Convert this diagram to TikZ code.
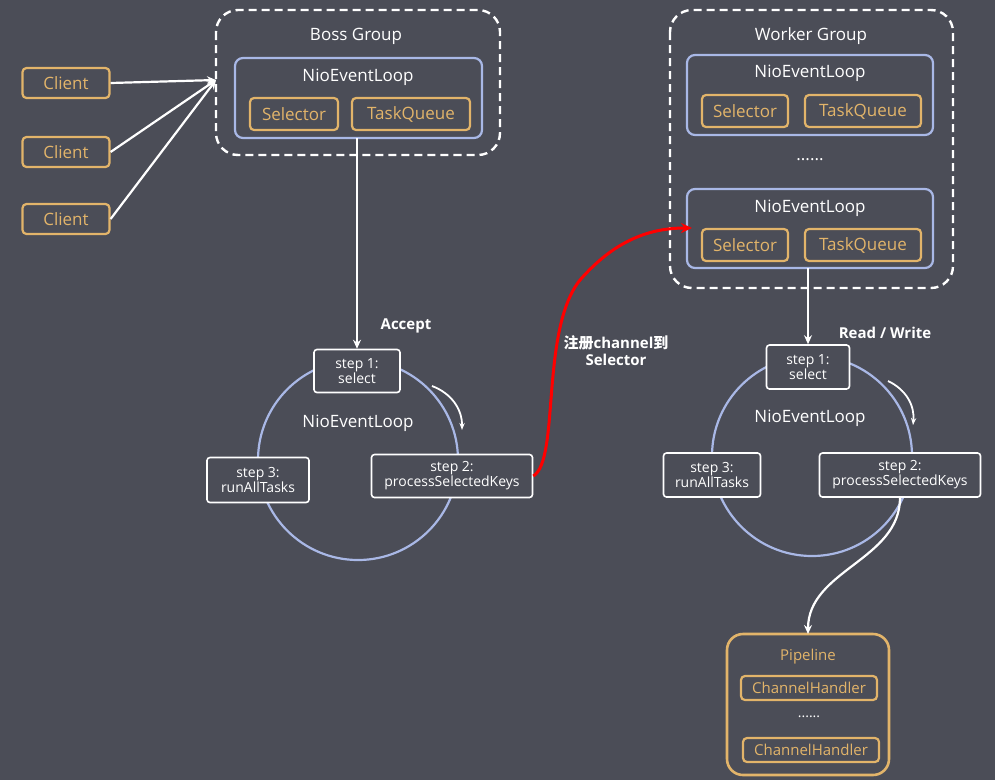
\documentclass[tikz,border=0pt]{standalone}
\usepackage{fontspec}
\setmainfont{Open Sans}
\newfontfamily\cjk{Noto Sans CJK SC}
\usetikzlibrary{arrows.meta}
\definecolor{bg}{HTML}{4B4D57}
\definecolor{org}{HTML}{E2B46A}
\definecolor{blu}{HTML}{A9B8E6}
\begin{document}
\begin{tikzpicture}[x=1pt,y=-1pt,
 box/.style={draw=org,line width=2.2pt,rounded corners=4pt,text=org,font=\fontsize{17}{17}\selectfont},
 loop/.style={draw=blu,line width=2.2pt,rounded corners=8pt},
 grp/.style={draw=white,line width=2.4pt,dash pattern=on 8pt off 5pt,rounded corners=22pt},
 stp/.style={draw=white,line width=1.6pt,rounded corners=3pt,fill=bg,text=white,align=center,font=\fontsize{14}{15}\selectfont,inner sep=2pt},
 lbl/.style={text=white,font=\fontsize{17}{17}\selectfont},
 arr/.style={white,line width=2.2pt,-{Stealth[length=9pt,width=8pt]}}]
\fill[bg] (0,0) rectangle (995,780);
% Boss group
\draw[grp] (216,10) rectangle (500,155);
\node[lbl] (bt) at (356,36) {Boss Group};
\draw[loop] (235,58) rectangle (482,138);
\node[lbl] (bl) at (358,77) {NioEventLoop};
\node[box,minimum width=88pt,minimum height=32pt] (bs) at (294,114) {Selector};
\node[box,minimum width=118pt,minimum height=32pt] (bq) at (411,114) {TaskQueue};
\coordinate (bin) at (216,80);
\coordinate (bout) at (357,138);
% Clients
\foreach \n/\y in {c1/83,c2/152,c3/219}{
 \node[box,minimum width=87pt,minimum height=30pt] (\n) at (66,\y) {Client};
 \draw[arr] (\n.east) -- (bin);
}
% Worker group
\draw[grp] (670,10) rectangle (953,288);
\node[lbl] (wt) at (811,36) {Worker Group};
\draw[loop] (687,55) rectangle (933,135);
\node[lbl] (wl1) at (810,73) {NioEventLoop};
\node[box,minimum width=86pt,minimum height=32pt] (ws1) at (745,111) {Selector};
\node[box,minimum width=116pt,minimum height=32pt] (wq1) at (863,111) {TaskQueue};
\node[lbl] (wd) at (810,160) {......};
\draw[loop] (687,189) rectangle (933,268);
\node[lbl] (wl2) at (810,208) {NioEventLoop};
\node[box,minimum width=86pt,minimum height=32pt] (ws2) at (745,245) {Selector};
\node[box,minimum width=116pt,minimum height=32pt] (wq2) at (863,245) {TaskQueue};
\coordinate (win) at (692,228);
\coordinate (wout) at (808,268);
% left loop
\draw[blu,line width=2.2pt] (358,460) circle (100);
\node[stp,minimum width=86pt,minimum height=43pt] (ls1) at (357,371) {step 1:\\select};
\node[lbl] (ln) at (358,423) {NioEventLoop};
\node[stp,minimum width=102pt,minimum height=45pt] (ls3) at (258,480) {step 3:\\runAllTasks};
\node[stp,minimum width=161pt,minimum height=43pt] (ls2) at (452,476) {step 2:\\processSelectedKeys};
\draw[arr] (bout) -- (ls1.north);
\node[text=white,font=\fontsize{15}{15}\selectfont\bfseries] (acc) at (406,326) {Accept};
\draw[white,line width=1.8pt,-{Stealth[length=7pt]}] (432,386) to[bend left=35] (462,430);
% red arrow
\draw[red,line width=3pt,-{Stealth[length=11pt,width=10pt]}] (ls2.east) .. controls (560,460) and (540,330) .. (580,280) .. controls (615,240) and (650,228) .. (win);
\node[text=white,align=center,font=\fontsize{15}{17}\selectfont\bfseries] (reg) at (616,351) {{\cjk 注册}channel{\cjk 到}\\Selector};
% right loop
\draw[blu,line width=2.2pt] (812,456) circle (100);
\node[stp,minimum width=83pt,minimum height=44pt] (rs1) at (808,367) {step 1:\\select};
\node[lbl] (rn) at (810,418) {NioEventLoop};
\node[stp,minimum width=97pt,minimum height=44pt] (rs3) at (712,475) {step 3:\\runAllTasks};
\node[stp,minimum width=161pt,minimum height=44pt] (rs2) at (900,475) {step 2:\\processSelectedKeys};
\draw[arr] (wout) -- (rs1.north);
\node[text=white,font=\fontsize{15}{15}\selectfont\bfseries] (rw) at (885,333) {Read / Write};
\draw[white,line width=1.8pt,-{Stealth[length=7pt]}] (888,381) to[bend left=35] (913,425);
% pipeline
\draw[org,line width=2.6pt,rounded corners=16pt] (727,634) rectangle (889,775);
\node[text=org,font=\fontsize{15}{15}\selectfont] (pl) at (808,657) {Pipeline};
\node[box,font=\fontsize{15}{15}\selectfont,minimum width=136pt,minimum height=24pt] (ch1) at (809,688) {ChannelHandler};
\node[text=white,font=\fontsize{14}{14}\selectfont] (pd) at (809,717) {......};
\node[box,font=\fontsize{15}{15}\selectfont,minimum width=136pt,minimum height=24pt] (ch2) at (811,750) {ChannelHandler};
\coordinate (pin) at (808,634);
\draw[arr] (rs2.south) .. controls (900,560) and (808,570) .. (pin);
\end{tikzpicture}
\end{document}
